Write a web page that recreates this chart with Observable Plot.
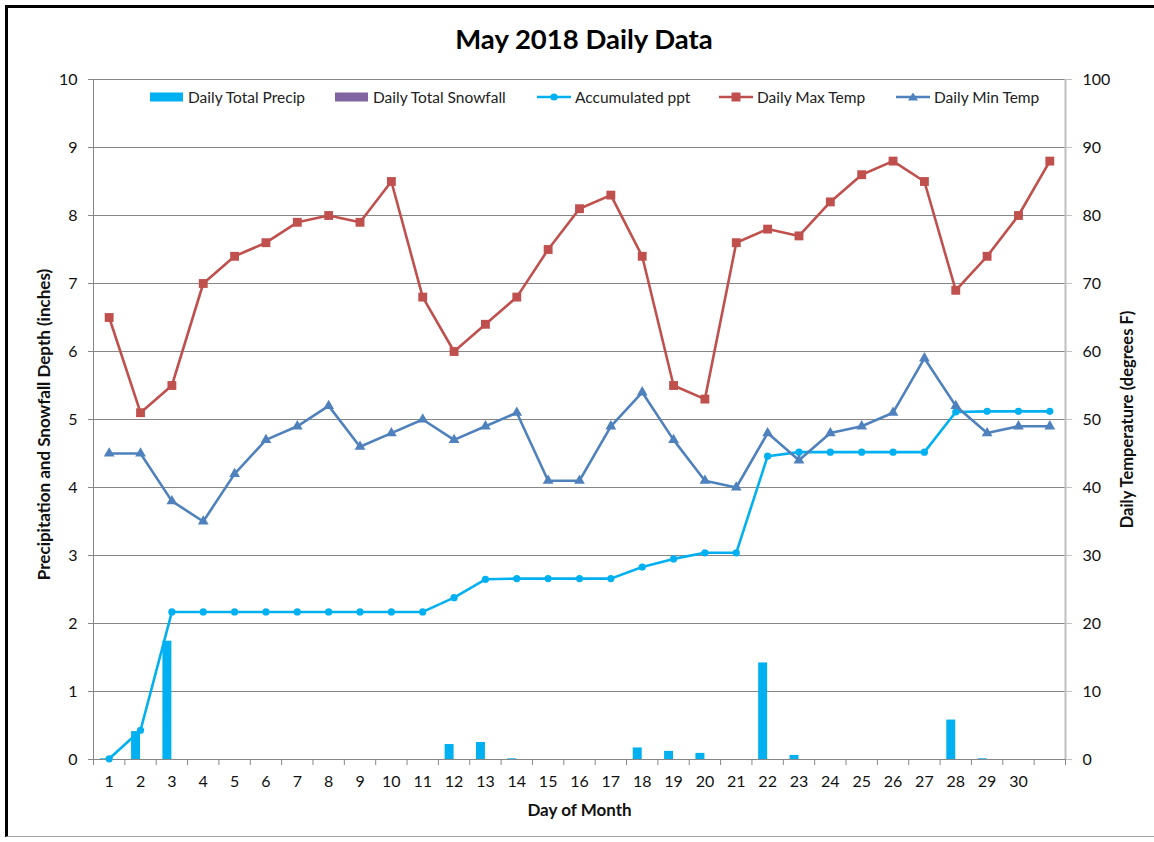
<!DOCTYPE html>
<html>
<head>
<meta charset="utf-8">
<script src="https://cdn.jsdelivr.net/npm/d3@7"></script>
<script src="https://cdn.jsdelivr.net/npm/@observablehq/plot@0.6"></script>
<style>
  html, body { margin: 0; padding: 0; background: #fff; }
  #wrap { position: relative; width: 1154px; height: 842px; overflow: hidden; font-family: Lato, "Open Sans", sans-serif; }
  #frame { position: absolute; left: 5px; top: 5px; width: 1170px; height: 832px; border-left: 3px solid #000; border-top: 3px solid #000; border-bottom: 1px solid #a6a6a6; box-sizing: border-box; }
  #chart { position: absolute; left: 0; top: 0; }
  #title { position: absolute; left: 0; width: 1168px; top: 22px; text-align: center; font-weight: bold; font-size: 27.5px; color: #000; }
  .leg { position: absolute; top: 88px; height: 18px; display: flex; align-items: center; font-size: 15.5px; color: #222; white-space: nowrap; }
  .leg svg { margin-right: 4px; }
</style>
</head>
<body>
<div id="wrap">
  <div id="chart"></div>
  <div id="frame"></div>
  <div id="title">May 2018 Daily Data</div>
  <div id="legend"></div>
</div>
<script>
// ---- data ----
const days = [1,2,3,4,5,6,7,8,9,10,11,12,13,14,15,16,17,18,19,20,21,22,23,24,25,26,27,28,29,30,31];
const labeledDays = [1,2,3,4,5,6,7,8,9,10,11,12,13,14,15,16,17,18,19,20,21,22,23,24,25,26,27,28,29,30];
const dailyPrecip = [0.01,0.41,1.74,0,0,0,0,0,0,0,0,0.22,0.25,0.01,0,0,0,0.17,0.12,0.09,0,1.42,0.06,0,0,0,0,0.58,0.01,0,0];
const dailySnowfall = [0,0,0,0,0,0,0,0,0,0,0,0,0,0,0,0,0,0,0,0,0,0,0,0,0,0,0,0,0,0,0];
const accumulatedPpt = [0.01,0.43,2.17,2.17,2.17,2.17,2.17,2.17,2.17,2.17,2.17,2.38,2.65,2.66,2.66,2.66,2.66,2.83,2.95,3.04,3.04,4.46,4.52,4.52,4.52,4.52,4.52,5.11,5.12,5.12,5.12];
const maxTemp = [65,51,55,70,74,76,79,80,79,85,68,60,64,68,75,81,83,74,55,53,76,78,77,82,86,88,85,69,74,80,88];
const minTemp = [45,45,38,35,42,47,49,52,46,48,50,47,49,51,41,41,49,54,47,41,40,48,44,48,49,51,59,52,48,49,49];
const leftTicks = [0,1,2,3,4,5,6,7,8,9,10];
const rightTicks = [0,10,20,30,40,50,60,70,80,90,100];

const seriesNames = ["Daily Total Precip","Daily Total Snowfall","Accumulated ppt","Daily Max Temp","Daily Min Temp"];
const seriesColors = ["#00B0F0","#8064A2","#00B0F0","#C0504D","#4F81BD"];
const seriesKinds = ["bar","bar","circle","square","triangle"];
const legendLeft = [150,335,537,719,896];

const tempScale = 10; // right axis (°F) shares the left axis scale: 10 °F per inch
const data = days.map((d, i) => ({
  day: d,
  precip: dailyPrecip[i],
  snow: dailySnowfall[i],
  accum: accumulatedPpt[i],
  tmax: maxTemp[i] / tempScale,
  tmin: minTemp[i] / tempScale
}));
const boundaries = days.map(d => d - 0.5).concat([days[days.length - 1] + 0.5]);
const barW = 0.286;

const grid = "#868686";

const chart = Plot.plot({
  width: 1154,
  height: 842,
  marginLeft: 93,
  marginRight: 89,
  marginTop: 79,
  marginBottom: 83,
  style: { fontFamily: "Lato, 'Open Sans', sans-serif", fontSize: "16px", color: "#111", background: "transparent" },
  x: { domain: [0.5, 31.5] },
  y: { domain: [0, 10] },
  marks: [
    Plot.ruleY(leftTicks.slice(1), { stroke: grid, strokeWidth: 1 }),
    Plot.rectY(data, { x1: d => d.day - barW, x2: d => d.day, y: "precip", fill: seriesColors[0] }),
    Plot.rectY(data, { x1: d => d.day, x2: d => d.day + barW, y: "snow", fill: seriesColors[1] }),
    Plot.ruleY([0], { stroke: grid }),
    Plot.ruleX([0.5], { stroke: grid }),
    Plot.ruleX([31.5], { stroke: "#c0c0c0", strokeWidth: 2 }),
    Plot.line(data, { x: "day", y: "accum", stroke: seriesColors[2], strokeWidth: 2.6 }),
    Plot.dot(data, { x: "day", y: "accum", fill: seriesColors[2], r: 3.6, symbol: "circle" }),
    Plot.line(data, { x: "day", y: "tmax", stroke: seriesColors[3], strokeWidth: 2.6 }),
    Plot.dot(data, { x: "day", y: "tmax", fill: seriesColors[3], r: 5, symbol: "square" }),
    Plot.line(data, { x: "day", y: "tmin", stroke: seriesColors[4], strokeWidth: 2.6 }),
    Plot.dot(data, { x: "day", y: "tmin", fill: seriesColors[4], r: 4, symbol: "triangle" }),
    Plot.axisY({ anchor: "left", ticks: leftTicks, tickSize: 5, tickPadding: 11, stroke: grid, label: null }),
    Plot.axisY({ anchor: "right", ticks: leftTicks, tickFormat: (d, i) => String(rightTicks[i]), tickSize: 6, tickPadding: 11, stroke: "#c0c0c0", label: null }),
    Plot.axisX({ ticks: labeledDays, tickSize: 0, tickPadding: 16, label: null }),
    Plot.axisX({ ticks: boundaries, tickSize: 6, tickFormat: () => "", stroke: grid, label: null }),
    Plot.text(["Day of Month"], { frameAnchor: "bottom", dy: 51, textAnchor: "middle", lineAnchor: "middle", fontWeight: "bold", fontSize: 17, fill: "#111" }),
    Plot.text(["Precipitation and Snowfall Depth (inches)"], { frameAnchor: "left", dx: -49, dy: 5, rotate: -90, textAnchor: "middle", lineAnchor: "middle", fontWeight: "bold", fontSize: 17, fill: "#111" }),
    Plot.text(["Daily Temperature (degrees F)"], { frameAnchor: "right", dx: 62, rotate: -90, textAnchor: "middle", lineAnchor: "middle", fontWeight: "bold", fontSize: 16.5, fill: "#111" })
  ]
});
document.getElementById("chart").appendChild(chart);

// ---- legend ----
const legend = document.getElementById("legend");
const ns = "http://www.w3.org/2000/svg";
seriesNames.forEach((name, i) => {
  const item = document.createElement("div");
  item.className = "leg";
  item.style.left = legendLeft[i] + "px";
  const svg = document.createElementNS(ns, "svg");
  svg.setAttribute("width", 34);
  svg.setAttribute("height", 14);
  const c = seriesColors[i];
  if (seriesKinds[i] === "bar") {
    svg.innerHTML = `<rect x="0" y="2.5" width="33" height="9" fill="${c}"/>`;
  } else {
    let marker = "";
    if (seriesKinds[i] === "circle") marker = `<circle cx="17" cy="7" r="3.6" fill="${c}"/>`;
    if (seriesKinds[i] === "square") marker = `<rect x="12.5" y="2.5" width="9" height="9" fill="${c}"/>`;
    if (seriesKinds[i] === "triangle") marker = `<path d="M17,2.5 L22,10.5 L12,10.5 Z" fill="${c}"/>`;
    svg.innerHTML = `<line x1="0" x2="34" y1="7" y2="7" stroke="${c}" stroke-width="2.6"/>` + marker;
  }
  item.appendChild(svg);
  const span = document.createElement("span");
  span.textContent = name;
  item.appendChild(span);
  legend.appendChild(item);
});
</script>
</body>
</html>
